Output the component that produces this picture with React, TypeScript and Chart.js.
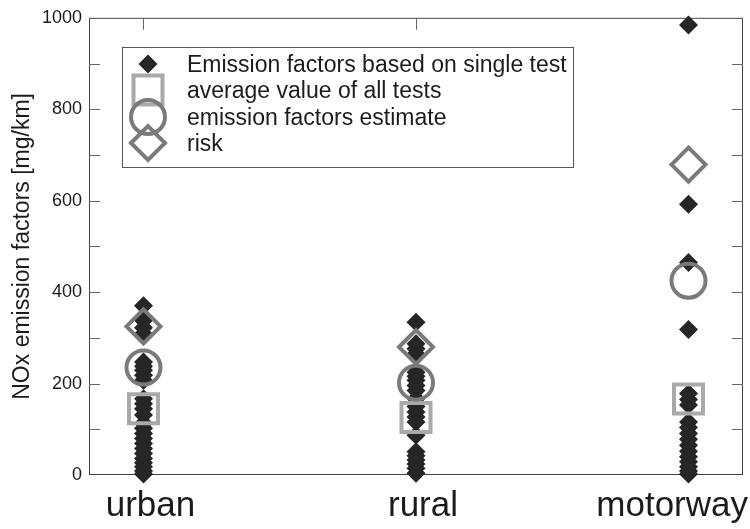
import React, { useEffect, useRef } from "react";
import { Chart, registerables } from "chart.js";

Chart.register(...registerables);

const categories = ["urban", "rural", "motorway"];

const urbanTests = [370, 338, 322, 309, 247, 238, 229, 218, 207, 167, 156, 145, 131, 113, 102, 91, 80, 69, 58, 47, 36, 27, 18, 9, 2];
const ruralTests = [334, 287, 276, 265, 225, 216, 207, 196, 185, 167, 150, 138, 127, 116, 87, 51, 42, 33, 24, 15, 4];
const motorwayTests = [984, 592, 465, 318, 178, 165, 153, 116, 104, 91, 78, 65, 52, 40, 29, 18, 9, 2];

const averageValues = [145, 126, 166];
const estimateValues = [235, 202, 425];
const riskValues = [325, 280, 679];

const yTicks = [0, 200, 400, 600, 800, 1000];

const seriesLabels = [
  "Emission factors based on single test",
  "average value of all tests",
  "emission factors estimate",
  "risk",
];

const FONT = "'Liberation Sans', Arial, Helvetica, sans-serif";
const TEXT = "#1c1c1c";
const BLACK = "#262626";
const LIGHT = "#a9a9a9";
const MID = "#7a7a7a";

function drawMarker(ctx: CanvasRenderingContext2D, kind: string, x: number, y: number) {
  ctx.save();
  ctx.beginPath();
  if (kind === "test") {
    const r = 9.5;
    ctx.moveTo(x - r, y);
    ctx.lineTo(x, y - r);
    ctx.lineTo(x + r, y);
    ctx.lineTo(x, y + r);
    ctx.closePath();
    ctx.fillStyle = BLACK;
    ctx.fill();
  } else if (kind === "avg") {
    const h = 14.5;
    ctx.rect(x - h, y - h, 2 * h, 2 * h);
    ctx.strokeStyle = LIGHT;
    ctx.lineWidth = 4;
    ctx.stroke();
  } else if (kind === "est") {
    ctx.arc(x, y, 17, 0, Math.PI * 2);
    ctx.strokeStyle = MID;
    ctx.lineWidth = 4;
    ctx.stroke();
  } else {
    const r = 17;
    ctx.moveTo(x - r, y);
    ctx.lineTo(x, y - r);
    ctx.lineTo(x + r, y);
    ctx.lineTo(x, y + r);
    ctx.closePath();
    ctx.strokeStyle = MID;
    ctx.lineWidth = 4;
    ctx.stroke();
  }
  ctx.restore();
}

const framePlugin = {
  id: "frame",
  beforeDatasetsDraw(chart: any) {
    const { ctx, chartArea } = chart;
    const { left, right, top, bottom } = chartArea;
    const xs = chart.scales.x;
    const ys = chart.scales.y;
    ctx.save();
    ctx.strokeStyle = "#444";
    ctx.lineWidth = 1;
    ctx.strokeRect(left + 0.5, top + 0.5, right - left - 1, bottom - top - 1);
    ctx.strokeStyle = "#666";
    ctx.beginPath();
    for (let v = 100; v < 1000; v += 100) {
      const py = Math.round(ys.getPixelForValue(v)) + 0.5;
      ctx.moveTo(left, py);
      ctx.lineTo(left + 11, py);
      ctx.moveTo(right, py);
      ctx.lineTo(right - 11, py);
    }
    categories.forEach((_, i) => {
      const px = Math.round(xs.getPixelForValue(i + 1)) + 0.5;
      ctx.moveTo(px, top);
      ctx.lineTo(px, top + 12);
      ctx.moveTo(px, bottom);
      ctx.lineTo(px, bottom - 12);
    });
    ctx.stroke();
    ctx.restore();
  },
  afterDraw(chart: any) {
    const { ctx, chartArea } = chart;
    const xs = chart.scales.x;
    ctx.save();
    ctx.font = `35px ${FONT}`;
    ctx.fillStyle = TEXT;
    ctx.textAlign = "center";
    ctx.textBaseline = "alphabetic";
    categories.forEach((c, i) => {
      const w = ctx.measureText(c).width;
      let px = xs.getPixelForValue(i + 1) + 7;
      px = Math.min(px, chart.width - w / 2 - 2);
      ctx.fillText(c, px, chartArea.bottom + 41);
    });
    ctx.restore();

    const bx = 122, by = 47, bw = 451, bh = 120;
    ctx.save();
    ctx.fillStyle = "#ffffff";
    ctx.fillRect(bx, by, bw, bh);
    ctx.strokeStyle = "#555";
    ctx.lineWidth = 1;
    ctx.strokeRect(bx + 0.5, by + 0.5, bw, bh);
    const kinds = ["test", "avg", "est", "risk"];
    const rows = [64, 90, 117, 143];
    kinds.forEach((k, i) => drawMarker(ctx, k, 148, rows[i]));
    ctx.font = `23px ${FONT}`;
    ctx.fillStyle = TEXT;
    ctx.textAlign = "left";
    ctx.textBaseline = "middle";
    seriesLabels.forEach((t, i) => ctx.fillText(t, 187, rows[i] + 2));
    ctx.restore();
  },
};

function pts(values: number[], xi: number) {
  return values.map((v) => ({ x: xi, y: v }));
}

export default function App() {
  const ref = useRef<HTMLCanvasElement | null>(null);
  useEffect(() => {
    document.body.style.margin = "0";
    const canvas = ref.current;
    if (!canvas) return;
    const testPoints = [
      ...pts(urbanTests, 1),
      ...pts(ruralTests, 2),
      ...pts(motorwayTests, 3),
    ];
    const chart = new Chart(canvas, {
      type: "scatter",
      data: {
        datasets: [
          {
            label: seriesLabels[3],
            data: riskValues.map((v, i) => ({ x: i + 1, y: v })),
            pointStyle: "rectRot",
            pointRadius: 17,
            pointBorderWidth: 4,
            pointBorderColor: MID,
            pointBackgroundColor: "rgba(0,0,0,0)",
            order: 1,
            clip: false,
          },
          {
            label: seriesLabels[2],
            data: estimateValues.map((v, i) => ({ x: i + 1, y: v })),
            pointStyle: "circle",
            pointRadius: 17,
            pointBorderWidth: 4,
            pointBorderColor: MID,
            pointBackgroundColor: "rgba(0,0,0,0)",
            order: 2,
            clip: false,
          },
          {
            label: seriesLabels[1],
            data: averageValues.map((v, i) => ({ x: i + 1, y: v })),
            pointStyle: "rect",
            pointRadius: 20.5,
            pointBorderWidth: 4,
            pointBorderColor: LIGHT,
            pointBackgroundColor: "rgba(0,0,0,0)",
            order: 3,
            clip: false,
          },
          {
            label: seriesLabels[0],
            data: testPoints,
            pointStyle: "rectRot",
            pointRadius: 9.5,
            pointBorderWidth: 0,
            pointBackgroundColor: BLACK,
            pointBorderColor: BLACK,
            order: 10,
            clip: false,
          },
        ] as any,
      },
      options: {
        responsive: false,
        animation: false,
        devicePixelRatio: 1,
        layout: { autoPadding: false, padding: { top: 16, right: 7, left: 0, bottom: 0 } },
        plugins: {
          legend: { display: false },
          tooltip: { enabled: false },
        },
        scales: {
          x: {
            type: "linear",
            min: 0.8,
            max: 3.2,
            grid: { display: false, drawTicks: false },
            border: { display: false },
            ticks: { display: false },
            afterFit: (s: any) => {
              s.height = 54;
            },
          },
          y: {
            min: 0,
            max: 1000,
            grid: { display: false, drawTicks: false },
            border: { display: false },
            afterBuildTicks: (s: any) => {
              s.ticks = yTicks.map((v) => ({ value: v }));
            },
            ticks: {
              padding: 7,
              color: TEXT,
              font: { family: FONT, size: 18 },
              callback: (v: any) => String(v),
            },
            title: {
              display: true,
              text: "NOx emission factors [mg/km]",
              color: TEXT,
              font: { family: FONT, size: 23 },
              padding: { top: 9, bottom: 0 },
            },
            afterFit: (s: any) => {
              s.width = 89;
            },
          },
        },
      } as any,
      plugins: [framePlugin],
    });
    return () => chart.destroy();
  }, []);
  return (
    <div style={{ position: "fixed", left: 0, top: 0, width: 750, height: 529, background: "#fff" }}>
      <canvas ref={ref} width={750} height={529} style={{ display: "block" }} />
    </div>
  );
}
